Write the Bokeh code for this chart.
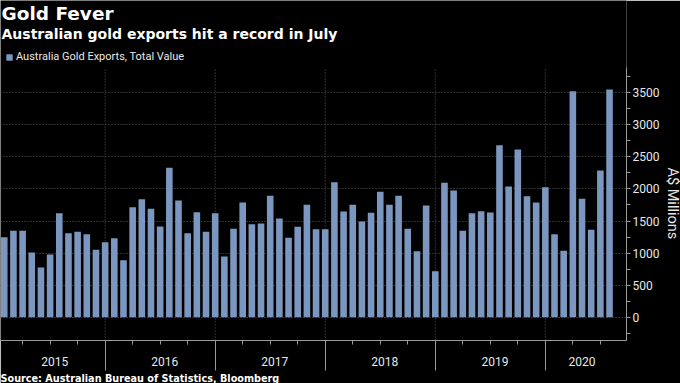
from bokeh.plotting import figure
from bokeh.models import (Range1d, FixedTicker, Title, Legend, LegendItem, Label,
                          ColumnDataSource, LinearAxis)
from bokeh.embed import file_html
from bokeh.resources import INLINE

# ---- data (A$ millions, monthly, Jan 2015 - Jul 2020) ----
years = [2015, 2016, 2017, 2018, 2019, 2020]
months_in_year = [12, 12, 12, 12, 12, 7]
exports_2015 = [1248, 1348, 1348, 1009, 775, 978, 1622, 1310, 1332, 1295, 1051, 1170]
exports_2016 = [1232, 889, 1716, 1841, 1691, 1415, 2330, 1820, 1310, 1638, 1332, 1622]
exports_2017 = [947, 1379, 1789, 1451, 1461, 1893, 1540, 1238, 1410, 1753, 1373, 1373]
exports_2018 = [2106, 1649, 1753, 1493, 1630, 1956, 1753, 1893, 1379, 1030, 1742, 718]
exports_2019 = [2096, 1976, 1348, 1622, 1653, 1633, 2683, 2039, 2616, 1887, 1789, 2028]
exports_2020 = [1295, 1036, 3525, 1847, 1363, 2288, 3552]
y_ticks = [0, 500, 1000, 1500, 2000, 2500, 3000, 3500]
y_minor_ticks = [-250, 250, 750, 1250, 1750, 2250, 2750, 3250, 3750]

title_text = "Gold Fever"
subtitle_text = "Australian gold exports hit a record in July"
legend_text = "Australia Gold Exports, Total Value"
source_text = "Source: Australian Bureau of Statistics, Bloomberg"
y_label = "A$ Millions"

values = exports_2015 + exports_2016 + exports_2017 + exports_2018 + exports_2019 + exports_2020
idx = list(range(len(values)))
separators = [i for i in idx if i % 12 == 11]
quarters = [i for i in idx if i % 12 in (2, 5, 8)]
centers = []
start = 0
for n in months_in_year:
    centers.append(start + (n - 1) / 2)
    start += n

BAR = "#7b96bf"
GRID = "#5a5a5a"
AX = "#9a9a9a"
TXT = "#e8e8e8"

FW, FH = 626, 340
Y_LO, Y_AXIS_TOP, Y_TOP = -364, 3895, 4940

p = figure(frame_width=FW, frame_height=FH, output_backend="svg", toolbar_location=None,
           x_range=Range1d(-0.41, 67.85), y_range=Range1d(Y_LO, Y_TOP),
           y_axis_location="right", background_fill_color="black",
           border_fill_color="black", outline_line_color=None,
           min_border_left=0, min_border_top=0, min_border_bottom=0, min_border_right=0)
p.title.visible = False
p.xgrid.visible = False

# year separators inside the plot (dotted)
p.segment(x0=separators, y0=[Y_LO] * len(separators), x1=separators,
          y1=[Y_AXIS_TOP] * len(separators), line_color=GRID, line_dash="1 2", line_width=1)

src = ColumnDataSource(dict(x=idx, top=values))
bars = p.vbar(x="x", top="top", width=0.72, source=src, fill_color=BAR, line_color=None)

# x axis: year separators + quarter ticks
xa = p.xaxis[0]
xa.ticker = FixedTicker(ticks=separators, minor_ticks=quarters)
xa.major_tick_out = 30
xa.major_tick_in = 0
xa.minor_tick_out = 4
xa.minor_tick_in = 0
xa.major_label_overrides = {s: "" for s in separators}
xa.major_label_standoff = 0
xa.axis_line_color = AX
xa.major_tick_line_color = AX
xa.minor_tick_line_color = AX

# second x axis: year labels centred in each year
xb = LinearAxis(ticker=FixedTicker(ticks=centers, minor_ticks=[]),
                major_label_overrides={c: str(y) for c, y in zip(centers, years)},
                major_tick_out=0, major_tick_in=0, minor_tick_out=0, minor_tick_in=0,
                axis_line_color=None, major_tick_line_color=None,
                major_label_text_color=TXT, major_label_text_font="Roboto",
                major_label_text_font_size="12px", major_label_standoff=-14)
p.add_layout(xb, "below")

# y axis
ya = p.yaxis[0]
ya.bounds = (Y_LO, Y_AXIS_TOP)
ya.ticker = FixedTicker(ticks=y_ticks, minor_ticks=y_minor_ticks)
ya.major_tick_out = 4
ya.major_tick_in = 0
ya.minor_tick_out = 4
ya.minor_tick_in = 0
ya.axis_line_color = AX
ya.major_tick_line_color = AX
ya.minor_tick_line_color = AX
ya.major_label_text_color = TXT
ya.major_label_text_font = "Roboto"
ya.major_label_text_font_size = "12px"
ya.major_label_standoff = 2

# y axis title, placed along the visible axis span (reads top to bottom)
p.add_layout(Title(text=y_label, align="left", offset=167, text_color=TXT,
                   text_font="Roboto", text_font_style="normal",
                   text_font_size="14.5px", standoff=3), "right")

p.ygrid.grid_line_color = GRID
p.ygrid.grid_line_dash = "1 2"

# source
p.add_layout(Title(text=source_text, align="left", text_color="white",
                   text_font="DejaVu Sans", text_font_style="bold",
                   text_font_size="9.7px", standoff=0), "below")

# titles and legend inside the top of the frame
p.add_layout(Label(x=1, y=FH - 2.4, x_units="screen", y_units="screen", text=title_text,
                   text_color="white", text_font="DejaVu Sans", text_font_style="bold",
                   text_font_size="18.5px", text_baseline="top"))
p.add_layout(Label(x=1, y=FH - 25.5, x_units="screen", y_units="screen", text=subtitle_text,
                   text_color="white", text_font="DejaVu Sans", text_font_style="bold",
                   text_font_size="14px", text_baseline="top"))
leg = Legend(items=[LegendItem(label=legend_text, renderers=[bars])],
             orientation="horizontal", location=(4, FH - 64),
             background_fill_color="black", background_fill_alpha=1, border_line_alpha=0,
             label_text_color=TXT, label_text_font="Roboto", label_text_font_size="11px",
             glyph_width=8, glyph_height=8, label_standoff=3, padding=1, margin=0,
             label_height=10)
p.add_layout(leg)

open("out.html", "w").write(file_html(p, INLINE))
